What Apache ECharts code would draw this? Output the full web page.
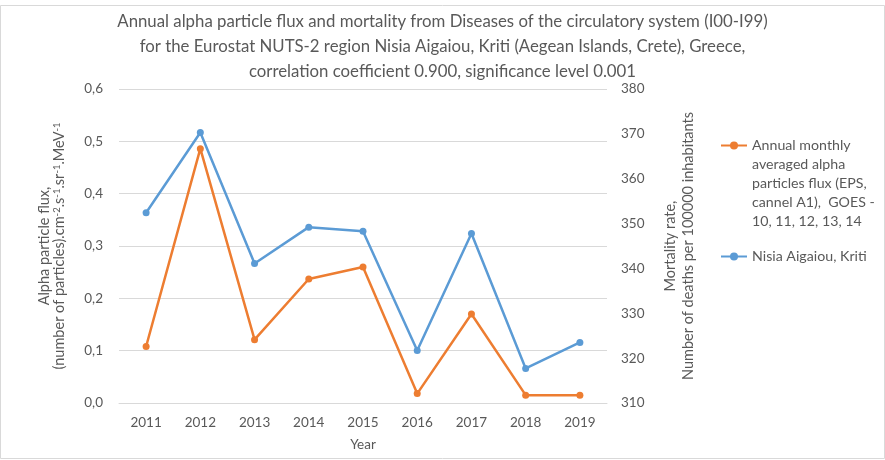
<!DOCTYPE html>
<html>
<head>
<meta charset="utf-8">
<script src="https://cdn.jsdelivr.net/npm/echarts@6/dist/echarts.min.js"></script>
<style>
  html, body { margin: 0; padding: 0; background: #fff; }
  #chart { width: 885px; height: 460px; }
</style>
</head>
<body>
<div id="chart"></div>
<script>
// years on the category axis
const years = ['2011', '2012', '2013', '2014', '2015', '2016', '2017', '2018', '2019'];
// alpha particle flux (left axis)
const alphaFlux = [0.108, 0.486, 0.121, 0.237, 0.260, 0.018, 0.170, 0.015, 0.015];
// mortality rate per 100000 (right axis)
const mortality = [352.4, 370.3, 341.1, 349.2, 348.3, 321.7, 347.8, 317.7, 323.5];

const fluxName = 'Annual monthly averaged alpha particles flux (EPS, cannel A1),  GOES - 10, 11, 12, 13, 14';
const mortName = 'Nisia Aigaiou, Kriti';

const grey = '#595959';
const font = 'Lato';

const chart = echarts.init(document.getElementById('chart'));
chart.setOption({
  animation: false,
  textStyle: { fontFamily: font },
  title: {
    text: 'Annual alpha particle flux and mortality from Diseases of the circulatory system (I00-I99)\n' +
          'for the Eurostat NUTS-2 region Nisia Aigaiou, Kriti (Aegean Islands, Crete), Greece,\n' +
          'correlation coefficient 0.900, significance level 0.001',
    left: 'center',
    top: 9,
    padding: [0, 0, 0, 5],
    textStyle: { color: grey, fontSize: 16.8, fontWeight: 'normal', lineHeight: 25, fontFamily: font }
  },
  graphic: [{
    type: 'rect',
    shape: { x: 0.5, y: 5.5, width: 884, height: 453 },
    style: { fill: 'none', stroke: '#d9d9d9', lineWidth: 1 },
    silent: true
  }],
  legend: [{
    data: [fluxName],
    orient: 'vertical',
    left: 720,
    top: 60,
    padding: 0,
    itemWidth: 26,
    itemHeight: 10,
    // leading blank lines keep the icon level with the first text line
    formatter: () => '\n\n\n\nAnnual monthly\naveraged alpha\nparticles flux (EPS,\ncannel A1),  GOES -\n10, 11, 12, 13, 14',
    textStyle: { color: grey, fontSize: 14.2, lineHeight: 19, fontFamily: font }
  }, {
    data: [mortName],
    orient: 'vertical',
    left: 720,
    top: 247,
    padding: 0,
    itemWidth: 26,
    itemHeight: 10,
    textStyle: { color: grey, fontSize: 14.2, lineHeight: 19, fontFamily: font }
  }],
  grid: { left: 119, right: 278, top: 89, bottom: 57, containLabel: false },
  xAxis: {
    type: 'category',
    data: years,
    boundaryGap: true,
    name: 'Year',
    nameLocation: 'middle',
    nameGap: 35,
    nameTextStyle: { color: grey, fontSize: 13.5, fontFamily: font },
    axisLine: { lineStyle: { color: '#d9d9d9' } },
    axisTick: { show: false },
    axisLabel: { color: grey, fontSize: 13.5, margin: 13, fontFamily: font }
  },
  yAxis: [{
    type: 'value',
    min: 0,
    max: 0.6,
    interval: 0.1,
    name: '{n|Alpha particle flux,}\n{n|(number of particles).cm}{s|-2}{n|.s}{s|-1}{n|.sr}{s|-1}{n|.MeV}{s|-1}',
    nameLocation: 'middle',
    nameRotate: 90,
    nameGap: 52,
    nameTextStyle: {
      color: grey, fontSize: 14.5, lineHeight: 15, fontFamily: font,
      rich: {
        n: { color: grey, fontSize: 14.5, lineHeight: 15, fontFamily: font },
        s: { color: grey, fontSize: 9.5, lineHeight: 15, fontFamily: font, verticalAlign: 'top', padding: [0, 0, 5, 0] }
      }
    },
    axisLine: { show: false },
    axisTick: { show: false },
    axisLabel: { color: grey, fontSize: 13.5, margin: 16, fontFamily: font,
      formatter: v => v.toFixed(1).replace('.', ',') },
    splitLine: { lineStyle: { color: '#d9d9d9' } }
  }, {
    type: 'value',
    min: 310,
    max: 380,
    interval: 10,
    name: 'Mortality rate,\nNumber of deaths per 100000 inhabitants',
    nameLocation: 'middle',
    nameRotate: 90,
    nameGap: 54,
    nameTextStyle: { color: grey, fontSize: 14.5, lineHeight: 18, fontFamily: font },
    axisLine: { show: false },
    axisTick: { show: false },
    axisLabel: { color: grey, fontSize: 13.5, margin: 14, fontFamily: font },
    splitLine: { show: false }
  }],
  series: [{
    name: fluxName,
    type: 'line',
    yAxisIndex: 0,
    data: alphaFlux,
    color: '#ED7D31',
    lineStyle: { width: 2.5 },
    symbol: 'circle',
    symbolSize: 7
  }, {
    name: mortName,
    type: 'line',
    yAxisIndex: 1,
    data: mortality,
    color: '#5B9BD5',
    lineStyle: { width: 2.5 },
    symbol: 'circle',
    symbolSize: 7
  }]
});
</script>
</body>
</html>
